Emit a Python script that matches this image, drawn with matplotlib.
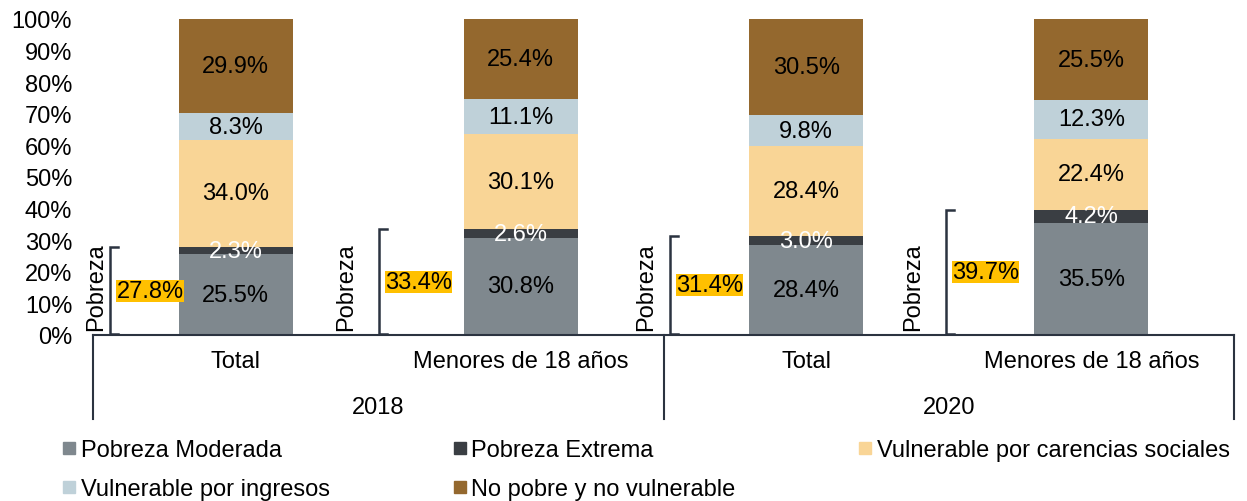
"""Pobreza y vulnerabilidad, 2018 vs 2020 (barras apiladas)."""

import matplotlib.pyplot as plt
from matplotlib.lines import Line2D

plt.rcParams['font.family'] = ['Liberation Sans', 'DejaVu Sans']

categories = ["Total", "Menores de 18 años", "Total", "Menores de 18 años"]
years = ["2018", "2020"]

series_names = [
    "Pobreza Moderada",
    "Pobreza Extrema",
    "Vulnerable por carencias sociales",
    "Vulnerable por ingresos",
    "No pobre y no vulnerable",
]
pobreza_moderada = [25.5, 30.8, 28.4, 35.5]
pobreza_extrema = [2.3, 2.6, 3.0, 4.2]
vuln_carencias = [34.0, 30.1, 28.4, 22.4]
vuln_ingresos = [8.3, 11.1, 9.8, 12.3]
no_pobre = [29.9, 25.4, 30.5, 25.5]
pobreza_total = [27.8, 33.4, 31.4, 39.7]

series = [pobreza_moderada, pobreza_extrema, vuln_carencias, vuln_ingresos, no_pobre]
colors = ['#7f888e', '#3a3e43', '#f9d596', '#bfd1d9', '#94682e']
text_colors = ['black', 'white', 'black', 'black', 'black']

# bracket x offset relative to each bar (data units)
bracket_dx = [-0.44, -0.497, -0.477, -0.51]
pobreza_dx = [-0.05, -0.115, -0.085, -0.115]

FS = 17
W, H = 1247, 502
fig = plt.figure(figsize=(W / 100, H / 100), dpi=100)
ax = fig.add_axes([93 / W, (H - 336) / H, (1234 - 93) / W, 316 / H])

x = list(range(len(categories)))
bottom = [0.0] * len(categories)
for vals, name, color, tc in zip(series, series_names, colors, text_colors):
    ax.bar(x, vals, width=0.4, bottom=bottom, color=color, label=name)
    for xi, v, b in zip(x, vals, bottom):
        ax.text(xi, b + v / 2, f"{v:.1f}%", ha='center', va='center',
                fontsize=FS, color=tc)
    bottom = [b + v for b, v in zip(bottom, vals)]

# Pobreza brackets
bc = '#2b3340'
for xi, tot, dx, pdx in zip(x, pobreza_total, bracket_dx, pobreza_dx):
    bx = xi + dx
    ax.plot([bx + 0.028, bx, bx, bx + 0.028], [0.3, 0.3, tot, tot],
            color=bc, lw=1.8, clip_on=False, solid_joinstyle='miter')
    ax.text(bx + 0.022, tot / 2, f"{tot:.1f}%", ha='left', va='center',
            fontsize=FS, color='black',
            bbox=dict(facecolor='#ffc000', edgecolor='none', pad=0))
    ax.text(bx + pdx, 1.5, "Pobreza", rotation=90, ha='center', va='bottom',
            fontsize=FS)

ax.set_xlim(-0.5, 3.5)
ax.set_ylim(0, 100)
ax.set_yticks(range(0, 101, 10))
ax.set_yticklabels([f"{t}%" for t in range(0, 101, 10)], fontsize=FS)
ax.set_xticks([])
ax.tick_params(axis='y', length=0, pad=15)
for s in ['top', 'right', 'left']:
    ax.spines[s].set_visible(False)
ax.spines['bottom'].set_color('#2b3340')
ax.spines['bottom'].set_linewidth(1.5)

# category and year labels
trans = ax.get_xaxis_transform()
for xi, cat in zip(x, categories):
    ax.text(xi, -26 / 316, cat, transform=trans, ha='center', va='center',
            fontsize=FS)
for gi, yr in enumerate(years):
    ax.text(2 * gi + 0.5, -72 / 316, yr, transform=trans, ha='center',
            va='center', fontsize=FS)
for sx in [-0.5, 1.5, 3.5]:
    ax.plot([sx, sx], [0, -84 / 316], transform=trans, color='#2b3340',
            lw=1.5, clip_on=False)

# legend filled row by row like the original
handles = [Line2D([], [], marker='s', linestyle='none', markersize=8,
                  markerfacecolor=c, markeredgecolor=c) for c in colors]
order = [0, 3, 1, 4, 2]
fig.legend([handles[i] for i in order], [series_names[i] for i in order],
           loc='upper left', ncol=3, bbox_to_anchor=(50 / W, 1 - 428 / H),
           frameon=False, fontsize=FS, handlelength=0.6, handletextpad=0.2,
           columnspacing=5.2, labelspacing=0.72, borderpad=0)

plt.savefig("out.png", dpi=100)
